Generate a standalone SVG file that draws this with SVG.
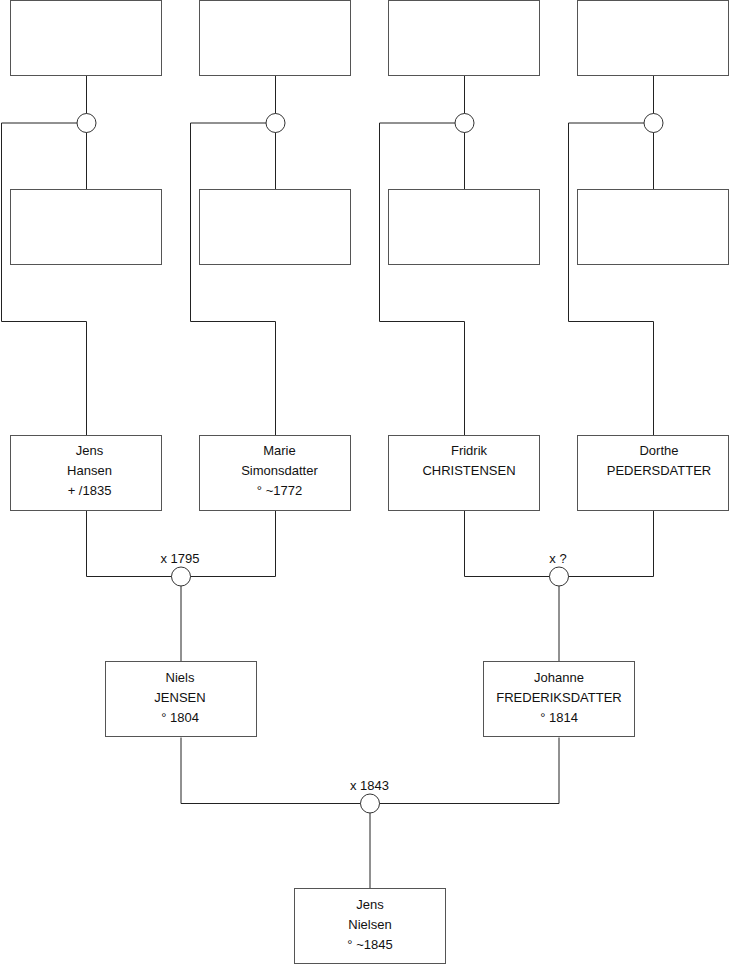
<svg xmlns="http://www.w3.org/2000/svg" width="740" height="975" viewBox="0 0 740 975">
<style>
.box{fill:#fff;stroke:#555;stroke-width:1}
.ln{fill:none;stroke:#222;stroke-width:1}
.ring{fill:#fff;stroke:#333;stroke-width:1}
text{font-family:"Liberation Sans",Arial,sans-serif;font-size:13px;fill:#111;text-anchor:middle}
</style>
<rect width="740" height="975" fill="#fff"/>
<g id="connectors">
<path class="ln" d="M86.5 75.5V189.5M86.5 123H1.5V321.5H86.5V435.5"/>
<path class="ln" d="M275.5 75.5V189.5M275.5 123H190.5V321.5H275.5V435.5"/>
<path class="ln" d="M464.5 75.5V189.5M464.5 123H379.5V321.5H464.5V435.5"/>
<path class="ln" d="M653.5 75.5V189.5M653.5 123H568.5V321.5H653.5V435.5"/>
<path class="ln" d="M86.5 510.5V576.5H275.5V510.5M181 576.5V661.5"/>
<path class="ln" d="M464.5 510.5V576.5H653.5V510.5M559 576.5V661.5"/>
<path class="ln" d="M181 737.5V803.5H559V737.5M370 803.5V888.5"/>
</g>
<g id="union1"><circle class="ring" cx="86.5" cy="123" r="9.5"/></g>
<g id="union2"><circle class="ring" cx="275.5" cy="123" r="9.5"/></g>
<g id="union3"><circle class="ring" cx="464.5" cy="123" r="9.5"/></g>
<g id="union4"><circle class="ring" cx="653.5" cy="123" r="9.5"/></g>
<g id="union5"><circle class="ring" cx="181" cy="576.5" r="9.5"/><text x="180" y="563">x 1795</text></g>
<g id="union6"><circle class="ring" cx="559" cy="576.5" r="9.5"/><text x="558" y="563">x ?</text></g>
<g id="union7"><circle class="ring" cx="370" cy="803.5" r="9.5"/><text x="369.5" y="790">x 1843</text></g>
<g id="top1"><rect class="box" x="10.5" y="0.5" width="151" height="75"/></g>
<g id="top2"><rect class="box" x="199.5" y="0.5" width="151" height="75"/></g>
<g id="top3"><rect class="box" x="388.5" y="0.5" width="151" height="75"/></g>
<g id="top4"><rect class="box" x="577.5" y="0.5" width="151" height="75"/></g>
<g id="mid1"><rect class="box" x="10.5" y="189.5" width="151" height="75"/></g>
<g id="mid2"><rect class="box" x="199.5" y="189.5" width="151" height="75"/></g>
<g id="mid3"><rect class="box" x="388.5" y="189.5" width="151" height="75"/></g>
<g id="mid4"><rect class="box" x="577.5" y="189.5" width="151" height="75"/></g>
<g id="jens-hansen"><rect class="box" x="10.5" y="435.5" width="151" height="75"/>
<text x="89.5" y="455">Jens</text><text x="89.5" y="475">Hansen</text><text x="89.5" y="495">+ /1835</text></g>
<g id="marie-simonsdatter"><rect class="box" x="199.5" y="435.5" width="151" height="75"/>
<text x="279.5" y="455">Marie</text><text x="279.5" y="475">Simonsdatter</text><text x="279.5" y="495">° ~1772</text></g>
<g id="fridrik-christensen"><rect class="box" x="388.5" y="435.5" width="151" height="75"/>
<text x="469" y="455">Fridrik</text><text x="469" y="475">CHRISTENSEN</text></g>
<g id="dorthe-pedersdatter"><rect class="box" x="577.5" y="435.5" width="151" height="75"/>
<text x="659" y="455">Dorthe</text><text x="659" y="475">PEDERSDATTER</text></g>
<g id="niels-jensen"><rect class="box" x="105.5" y="661.5" width="151" height="75"/>
<text x="180" y="682">Niels</text><text x="180" y="702">JENSEN</text><text x="180" y="722">° 1804</text></g>
<g id="johanne-frederiksdatter"><rect class="box" x="483.5" y="661.5" width="151" height="75"/>
<text x="559" y="682">Johanne</text><text x="559" y="702">FREDERIKSDATTER</text><text x="559" y="722">° 1814</text></g>
<g id="jens-nielsen"><rect class="box" x="294.5" y="888.5" width="151" height="75"/>
<text x="370" y="909">Jens</text><text x="370" y="929">Nielsen</text><text x="370" y="949">° ~1845</text></g>
</svg>
